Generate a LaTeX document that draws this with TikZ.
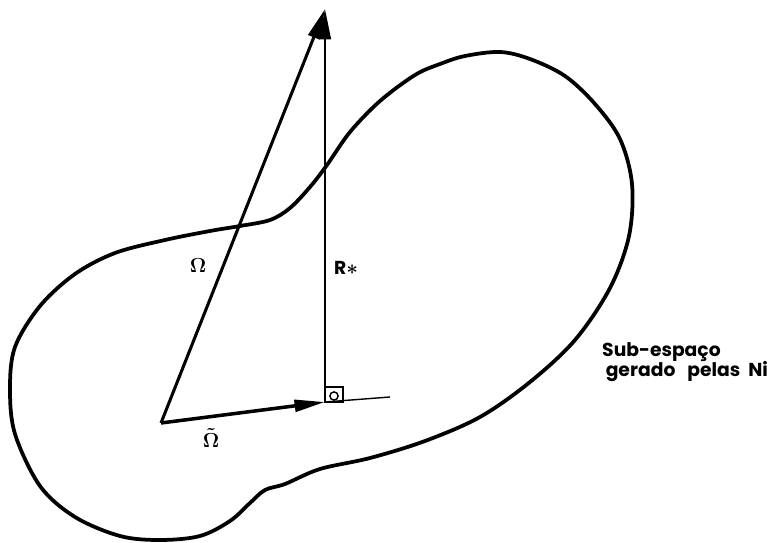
\documentclass[tikz,border=0pt]{standalone}
\usepackage[no-math]{fontspec}
\setmainfont{Poppins}
\usetikzlibrary{arrows.meta}

\begin{document}
\begin{tikzpicture}[
  x=0.03cm, y=-0.03cm,
  every node/.style={font=\bfseries\fontsize{16}{19}\selectfont},
  greek/.style={font=\fontsize{19}{22}\selectfont\boldmath},
  contour/.style={line width=3.2pt, line join=round},
  vec/.style={line width=2.6pt, -{Triangle[length=26pt,width=10pt]}},
  aux/.style={line width=1.2pt}
]
  \useasboundingbox (0,0) rectangle (779,543);

  % Sub-space boundary
  \draw[contour] plot[smooth cycle, tension=0.55] coordinates {
    (327,165) (350,132) (380,101) (415,75) (440,64) (465,56) (500,52)
    (530,59) (565,76) (595,104) (620,139) (632,184) (629,236) (610,288)
    (575,340) (530,382) (480,417) (425,441) (370,458) (320,469) (285,484)
    (265,490) (250,503) (230,521) (200,536) (160,540) (120,536) (75,517)
    (40,486) (15,434) (10,389) (15,347) (40,306) (75,274) (115,253)
    (165,240) (210,231) (240,226) (270,220) (290,208) (310,187)};

  % Points
  \coordinate (O) at (161,423);
  \coordinate (T) at (325,9);
  \coordinate (F) at (325,402);
  \coordinate (E) at (390,397);

  % Vectors
  \draw[vec] (O) -- (T);
  \draw[vec, line width=2pt] (F) -- (T);
  \draw[vec, line width=3pt] (O) -- (F);
  \draw[aux] (F) -- (E);

  % Right angle mark
  \draw[aux] (F) rectangle ++(18,-15);
  \draw[aux] (334,396) circle (3.5pt);

  % Labels
  \node[greek] (om)  at (198,266) {$\Omega$};
  \node (rs)  at (346,268) {R{\boldmath$\ast$}};
  \node[greek] (omt) at (211,438) {$\tilde{\Omega}$};
  \node[anchor=north west, align=left, inner sep=0pt] (sub) at (602,342)
    {Sub-espaço\\[-2pt]\hspace{3pt}gerado\ \ \ pelas\ \ Ni};
\end{tikzpicture}
\end{document}
